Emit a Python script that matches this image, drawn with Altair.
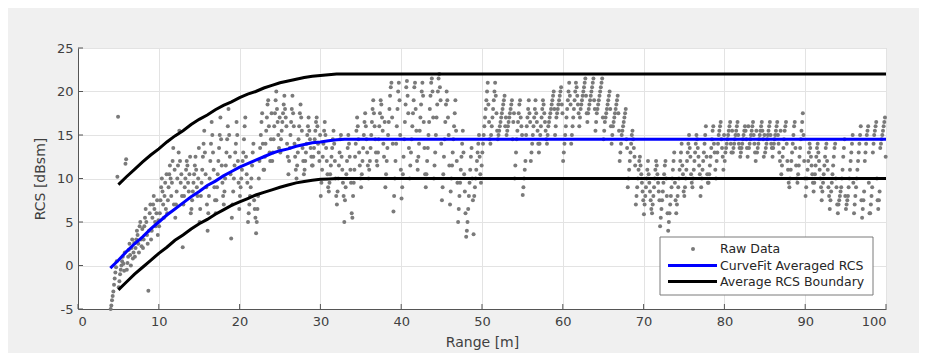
import altair as alt
import pandas as pd

# ---------------- data ----------------
range_start = 4  # first 1 m range bin of the raw data
raw_rcs = [
    [-5.0, -4.6, -4.0, -3.5, -3.0, -2.2, -1.5, -0.8, -0.2, 0.5, 10.2, 17.1],
    [-2.5, -1.8, -1.0, -0.5, 0.0, 0.5, 1.0, 0.2, -0.6, 1.5, 11.7, 12.2],
    [-0.5, 0.3, 1.0, 1.8, 2.5, 1.2, 0.0, 2.0, 3.0, 0.8, 1.5, 2.6],
    [1.0, 2.0, 3.0, 4.0, 3.5, 2.5, 1.5, 4.5, 5.0, 3.0, 2.2, 4.2],
    [2.0, 3.0, 4.5, 5.5, 6.5, 5.0, 3.5, 2.5, -2.9, 4.0, 6.0, 7.0],
    [3.0, 4.0, 5.5, 7.0, 8.0, 6.5, 5.0, 4.5, 6.0, 7.5, 3.5, 5.2],
    [4.5, 6.0, 7.5, 9.0, 10.0, 8.5, 7.0, 5.5, 8.0, 9.5, 6.5, 10.5],
    [6.0, 7.5, 9.0, 10.5, 11.5, 10.0, 8.0, 9.5, 12.0, 13.5, 7.0, 11.0],
    [5.5, 7.0, 8.5, 10.0, 11.5, 13.0, 15.5, 12.0, 9.5, 10.5, 8.0, 2.1],
    [7.0, 8.0, 9.0, 10.0, 11.0, 12.0, 11.5, 9.5, 8.5, 10.5, 12.5, 6.0],
    [6.5, 7.5, 8.5, 9.5, 10.5, 11.5, 12.5, 11.0, 9.0, 8.0, 10.0, 13.5],
    [5.0, 6.5, 8.0, 9.5, 11.0, 12.5, 14.0, 15.5, 13.0, 10.5, 9.0, 7.0],
    [4.0, 6.0, 8.0, 10.0, 12.0, 14.0, 16.5, 15.0, 13.0, 11.0, 9.0, 7.5],
    [6.0, 7.5, 9.0, 10.5, 12.0, 13.5, 15.0, 17.0, 14.5, 11.5, 9.5, 8.0],
    [7.0, 8.5, 10.0, 11.5, 13.0, 14.5, 16.0, 18.0, 15.0, 12.5, 10.5, 3.1],
    [5.5, 7.0, 8.5, 10.0, 11.5, 13.0, 14.0, 16.5, 15.0, 12.0, 9.5, 6.5],
    [8.0, 9.0, 10.0, 11.0, 12.0, 13.0, 14.5, 16.0, 17.0, 12.5, 10.5, 9.5],
    [5.0, 6.0, 7.0, 8.0, 9.0, 10.0, 11.5, 13.0, 14.0, 7.5, 6.5, 5.5],
    [3.7, 5.0, 6.5, 8.0, 10.0, 12.0, 13.5, 15.0, 16.5, 17.5, 14.0, 11.0],
    [11.0, 12.5, 14.0, 15.5, 17.0, 18.5, 19.0, 16.0, 13.0, 12.0, 14.5, 17.5],
    [12.0, 13.0, 14.5, 16.0, 17.5, 19.0, 20.0, 18.0, 16.5, 15.0, 13.5, 17.0],
    [13.0, 14.5, 15.5, 16.5, 17.5, 18.5, 19.5, 18.0, 17.0, 16.0, 14.0, 12.5],
    [10.5, 12.0, 13.5, 15.0, 16.5, 18.0, 19.5, 17.5, 16.0, 14.0, 12.5, 11.0],
    [10.0, 11.5, 13.0, 14.5, 16.0, 17.5, 18.5, 17.0, 15.5, 13.5, 12.0, 10.5],
    [11.0, 12.0, 13.0, 14.0, 15.0, 16.0, 17.0, 15.5, 14.5, 13.5, 12.5, 11.5],
    [11.5, 12.5, 13.5, 14.5, 15.5, 16.5, 17.0, 16.0, 14.0, 13.0, 12.0, 15.0],
    [8.0, 9.5, 11.0, 12.5, 14.0, 15.5, 16.5, 15.0, 13.5, 12.0, 10.5, 9.0],
    [8.5, 9.5, 10.5, 11.5, 12.5, 13.5, 14.5, 15.5, 14.0, 12.0, 10.0, 8.0],
    [7.0, 8.5, 10.0, 11.5, 13.0, 14.5, 15.0, 12.5, 11.0, 9.5, 8.0, 5.0],
    [7.5, 9.0, 10.5, 12.0, 13.5, 15.0, 14.0, 12.5, 11.0, 9.5, 6.0, 5.5],
    [8.0, 9.5, 11.0, 12.5, 14.0, 15.5, 17.0, 16.0, 14.5, 13.0, 11.5, 10.0],
    [9.0, 10.5, 12.0, 13.5, 15.0, 16.5, 17.5, 16.0, 14.5, 13.0, 11.5, 10.0],
    [11.0, 12.0, 13.5, 15.0, 16.5, 18.0, 19.0, 17.5, 16.0, 14.5, 13.0, 12.0],
    [11.5, 13.0, 14.5, 16.0, 17.5, 19.0, 18.5, 17.0, 15.5, 14.0, 12.5, 16.5],
    [9.0, 10.5, 12.0, 13.5, 15.0, 16.5, 18.0, 19.5, 20.5, 21.0, 17.0, 14.0],
    [6.2, 8.0, 10.0, 12.0, 14.0, 16.0, 18.0, 20.0, 21.0, 19.0, 15.0, 11.0],
    [7.7, 9.0, 10.5, 12.5, 14.5, 16.5, 18.5, 20.5, 21.2, 19.5, 17.5, 13.5],
    [10.0, 11.5, 13.0, 14.5, 16.0, 17.5, 19.0, 20.5, 21.0, 18.0, 15.5, 12.0],
    [11.0, 12.5, 14.0, 15.5, 17.0, 18.5, 20.0, 21.0, 19.5, 16.5, 13.5, 10.5],
    [9.0, 10.5, 12.0, 13.5, 15.0, 16.5, 18.0, 19.5, 21.0, 21.5, 20.0, 17.0],
    [10.0, 11.5, 13.0, 15.0, 17.0, 18.5, 20.0, 21.5, 22.0, 20.5, 19.0, 14.0],
    [7.5, 9.0, 10.5, 12.5, 14.5, 16.5, 18.5, 20.0, 19.0, 17.0, 15.0, 11.5],
    [7.0, 8.5, 10.0, 11.5, 13.0, 14.5, 16.0, 17.5, 19.0, 15.5, 12.0, 9.5],
    [5.0, 6.5, 8.0, 9.5, 11.0, 12.5, 14.0, 15.5, 13.0, 10.5, 8.5, 6.0],
    [3.3, 4.0, 5.0, 6.5, 8.0, 9.5, 11.0, 12.5, 13.5, 10.0, 7.5, 3.6],
    [8.0, 9.0, 10.0, 11.0, 12.0, 13.0, 14.0, 15.0, 12.5, 10.5, 9.5, 11.5],
    [13.0, 14.0, 15.0, 16.0, 17.0, 18.0, 19.0, 20.0, 21.0, 18.5, 16.5, 14.5],
    [14.0, 15.0, 16.0, 17.0, 18.0, 19.0, 20.0, 21.0, 19.5, 17.5, 15.5, 14.5],
    [15.0, 15.5, 16.0, 16.5, 17.0, 17.5, 18.0, 18.5, 19.0, 19.5, 16.0, 17.0],
    [15.0, 15.5, 16.0, 16.5, 17.0, 17.5, 18.0, 18.5, 19.0, 14.5, 16.5, 17.5],
    [10.0, 11.5, 13.0, 14.5, 15.5, 16.5, 17.5, 18.5, 19.0, 17.0, 16.0, 15.0],
    [8.1, 9.0, 10.0, 11.0, 12.0, 15.0, 16.0, 17.0, 18.0, 19.0, 17.5, 16.5],
    [12.0, 13.0, 14.0, 15.0, 16.0, 17.0, 18.0, 19.0, 17.5, 16.5, 15.5, 14.0],
    [13.0, 14.0, 15.0, 16.0, 17.0, 18.0, 19.0, 18.5, 17.5, 16.5, 15.5, 14.5],
    [14.0, 15.0, 16.0, 16.5, 17.0, 17.5, 18.0, 18.5, 19.0, 19.5, 20.0, 18.0],
    [15.0, 16.0, 17.0, 17.5, 18.0, 18.5, 19.0, 19.5, 20.0, 20.5, 18.5, 17.5],
    [12.0, 13.0, 14.0, 15.0, 16.0, 17.0, 18.0, 19.0, 20.0, 21.0, 19.5, 18.5],
    [14.0, 15.0, 16.0, 17.0, 18.0, 19.0, 20.0, 21.0, 20.5, 19.5, 18.5, 17.5],
    [16.0, 17.0, 18.0, 18.5, 19.0, 19.5, 20.0, 20.5, 21.0, 21.5, 19.5, 17.5],
    [16.5, 17.5, 18.0, 18.5, 19.0, 19.5, 20.0, 20.5, 21.0, 21.5, 19.0, 18.0],
    [15.5, 16.5, 17.5, 18.0, 18.5, 19.0, 19.5, 20.0, 20.5, 21.0, 21.5, 17.0],
    [14.5, 15.5, 16.5, 17.0, 17.5, 18.0, 18.5, 19.0, 19.5, 20.0, 18.0, 16.0],
    [14.0, 15.0, 16.0, 16.5, 17.0, 17.5, 18.0, 18.5, 19.0, 19.5, 17.5, 15.5],
    [12.0, 13.0, 14.0, 15.0, 15.5, 16.0, 16.5, 17.0, 17.5, 18.0, 14.5, 13.5],
    [9.0, 10.0, 11.0, 12.0, 13.0, 14.0, 15.0, 15.5, 14.5, 13.5, 12.5, 11.5],
    [7.0, 8.0, 9.0, 10.0, 11.0, 12.0, 12.5, 11.5, 10.5, 9.5, 8.5, 7.5],
    [5.9, 7.0, 8.0, 9.0, 10.0, 11.0, 12.0, 10.5, 9.5, 8.5, 7.5, 6.5],
    [6.0, 7.0, 8.0, 9.0, 10.0, 11.0, 12.0, 11.5, 10.5, 9.5, 8.5, 7.5],
    [4.5, 5.5, 6.5, 7.5, 8.5, 9.5, 10.5, 11.5, 12.0, 10.0, 8.0, 6.0],
    [4.0, 5.0, 6.0, 7.0, 8.0, 9.0, 10.0, 11.0, 12.0, 13.0, 9.5, 7.5],
    [6.0, 7.0, 8.0, 9.0, 10.0, 11.0, 12.0, 13.0, 14.0, 11.5, 10.5, 8.5],
    [8.0, 9.0, 10.0, 11.0, 12.0, 13.0, 14.0, 15.0, 13.5, 12.5, 10.5, 9.5],
    [9.0, 10.0, 11.0, 12.0, 13.0, 14.0, 15.0, 14.5, 13.5, 12.5, 11.5, 10.5],
    [8.0, 9.0, 10.0, 11.0, 12.0, 13.0, 14.0, 15.0, 16.0, 12.5, 10.5, 9.5],
    [9.5, 10.5, 11.5, 12.5, 13.5, 14.5, 15.5, 16.0, 14.0, 13.0, 11.0, 10.0],
    [12.0, 13.0, 14.0, 15.0, 15.5, 16.0, 16.5, 14.5, 13.5, 12.5, 11.0, 15.0],
    [12.0, 13.0, 13.5, 14.0, 14.5, 15.0, 15.5, 16.0, 16.5, 14.0, 13.0, 15.5],
    [13.0, 13.5, 14.0, 14.5, 15.0, 15.5, 16.0, 16.5, 15.0, 14.0, 13.5, 12.5],
    [13.0, 13.5, 14.0, 14.5, 15.0, 15.5, 16.0, 15.5, 14.5, 13.5, 12.5, 16.0],
    [13.5, 14.0, 14.5, 15.0, 15.5, 16.0, 16.5, 15.0, 14.0, 13.0, 12.0, 15.5],
    [13.0, 13.5, 14.0, 14.5, 15.0, 15.5, 16.0, 16.5, 15.5, 14.5, 12.5, 15.0],
    [13.0, 13.5, 14.0, 14.5, 15.0, 15.5, 16.0, 16.5, 15.0, 14.0, 13.5, 12.5],
    [13.5, 14.0, 14.5, 15.0, 15.5, 16.0, 16.5, 15.0, 14.0, 13.0, 12.0, 15.5],
    [10.5, 11.5, 12.5, 13.5, 14.5, 15.5, 16.0, 16.5, 14.0, 12.0, 11.0, 9.5],
    [9.0, 10.0, 11.0, 12.0, 13.0, 14.0, 15.0, 16.0, 16.5, 13.5, 11.5, 10.0],
    [9.5, 10.5, 11.5, 12.5, 13.5, 14.5, 15.5, 16.5, 17.5, 15.0, 12.0, 10.0],
    [8.0, 9.0, 10.0, 11.0, 12.0, 13.0, 14.0, 13.5, 12.5, 11.5, 10.5, 9.5],
    [8.5, 9.5, 10.5, 11.5, 12.5, 13.5, 14.0, 13.0, 12.0, 11.0, 10.0, 9.0],
    [7.5, 8.5, 9.5, 10.5, 11.5, 12.5, 13.5, 14.0, 12.0, 11.0, 9.0, 8.0],
    [6.5, 7.5, 8.5, 9.5, 10.5, 11.5, 12.5, 13.5, 14.0, 10.0, 9.0, 7.0],
    [6.0, 7.0, 7.5, 8.0, 8.5, 9.0, 10.0, 11.0, 12.5, 13.5, 14.5, 8.0],
    [6.5, 7.0, 7.5, 8.0, 9.0, 10.0, 11.0, 12.0, 13.0, 14.0, 15.0, 9.5],
    [6.0, 7.0, 8.0, 9.0, 10.0, 11.0, 12.0, 13.0, 14.0, 15.0, 16.0, 7.5],
    [5.5, 6.5, 7.5, 8.5, 12.0, 13.0, 14.0, 15.0, 15.5, 16.0, 9.5, 6.0],
    [6.0, 7.0, 8.0, 9.0, 13.0, 14.0, 15.0, 15.5, 16.0, 16.5, 10.0, 7.5],
    [6.5, 7.5, 8.5, 13.5, 14.0, 14.5, 15.0, 15.5, 16.0, 16.5, 17.0, 12.5],
]

avg_x = [4, 5, 6, 7, 8, 9, 10, 11, 12, 13, 14, 15, 16, 17, 18, 19, 20, 21, 22,
         23, 24, 25, 26, 27, 28, 29, 30, 31, 32, 33, 34, 100]
avg_rcs = [-0.3, 0.6, 1.6, 2.5, 3.3, 4.2, 5.0, 5.8, 6.5, 7.2, 7.9, 8.5, 9.2, 9.7,
           10.3, 10.8, 11.3, 11.7, 12.1, 12.5, 12.9, 13.2, 13.4, 13.7, 13.9, 14.1,
           14.2, 14.35, 14.45, 14.5, 14.5, 14.5]

bound_x = [5, 6, 7, 8, 9, 10, 11, 12, 13, 14, 15, 16, 17, 18, 19, 20, 21, 22, 23,
           24, 25, 26, 27, 28, 29, 30, 31, 32, 33, 100]
bound_upper = [9.3, 10.2, 11.05, 11.9, 12.7, 13.4, 14.2, 14.9, 15.5, 16.2, 16.8,
               17.3, 17.9, 18.4, 18.8, 19.3, 19.7, 20.0, 20.4, 20.7, 21.0, 21.2,
               21.4, 21.6, 21.75, 21.85, 21.93, 22.0, 22.0, 22.0]
bound_lower = [-2.8, -1.9, -1.0, -0.2, 0.6, 1.4, 2.1, 2.9, 3.5, 4.2, 4.8, 5.3, 5.9,
               6.4, 6.9, 7.3, 7.7, 8.1, 8.4, 8.7, 9.0, 9.25, 9.5, 9.65, 9.8, 9.9,
               9.95, 10.0, 10.0, 10.0]

x_ticks = [0, 10, 20, 30, 40, 50, 60, 70, 80, 90, 100]
y_ticks = [-5, 0, 5, 10, 15, 20, 25]
legend_labels = ["Raw Data", "CurveFit Averaged RCS", "Average RCS Boundary"]

# ---------------- tables ----------------
rows = []
for b, vals in enumerate(raw_rcs):
    n = len(vals)
    for i, v in enumerate(vals):
        rows.append({"x": range_start + b + (i + 0.5) / n, "y": v})
raw_df = pd.DataFrame(rows)
avg_df = pd.DataFrame({"x": avg_x, "y": avg_rcs})
up_df = pd.DataFrame({"x": bound_x, "y": bound_upper})
lo_df = pd.DataFrame({"x": bound_x, "y": bound_lower})
xt_df = pd.DataFrame({"x": x_ticks})
yt_df = pd.DataFrame({"y": y_ticks})

W, H = 808, 261
FONT = "DejaVu Sans"
TXT = "#404040"


def X(field="x"):
    return alt.X(f"{field}:Q", scale=alt.Scale(domain=[0, 100], nice=False, zero=False),
                 axis=alt.Axis(values=x_ticks, title="Range [m]", labelPadding=6,
                               titlePadding=7, labelExpr="'' + datum.value"))


def Y(field="y"):
    return alt.Y(f"{field}:Q", scale=alt.Scale(domain=[-5, 25], nice=False, zero=False),
                 axis=alt.Axis(values=y_ticks, title="RCS [dBsm]", labelPadding=5,
                               titlePadding=9, labelExpr="'' + datum.value"))


points = alt.Chart(raw_df).mark_circle(size=16, color="#7a7a7a", opacity=1).encode(x=X(), y=Y())
avg_line = alt.Chart(avg_df).mark_line(color="#0000ff", strokeWidth=3).encode(x=X(), y=Y())
up_line = alt.Chart(up_df).mark_line(color="#000000", strokeWidth=3).encode(x=X(), y=Y())
lo_line = alt.Chart(lo_df).mark_line(color="#000000", strokeWidth=3).encode(x=X(), y=Y())

xticks = alt.Chart(xt_df).mark_rule(color="#555555", strokeWidth=1).encode(
    x=X(), y=alt.value(H), y2=alt.value(H - 5))
yticks = alt.Chart(yt_df).mark_rule(color="#555555", strokeWidth=1).encode(
    y=Y(), x=alt.value(0), x2=alt.value(5))

one = alt.Data(values=[{"k": 1}])
leg_box = alt.Chart(one).mark_rect(fill="white", stroke="#7a7a7a", strokeWidth=1).encode(
    x=alt.value(582), x2=alt.value(795), y=alt.value(189), y2=alt.value(247))
leg_dot = alt.Chart(one).mark_circle(size=16, color="#7a7a7a", opacity=1).encode(
    x=alt.value(615), y=alt.value(201))
leg_blue = alt.Chart(one).mark_rule(color="#0000ff", strokeWidth=3).encode(
    x=alt.value(590), x2=alt.value(639), y=alt.value(217.5))
leg_black = alt.Chart(one).mark_rule(color="#000000", strokeWidth=3).encode(
    x=alt.value(590), x2=alt.value(639), y=alt.value(233.5))
leg_texts = [
    alt.Chart(one).mark_text(text=lab, align="left", baseline="middle", font=FONT,
                             fontSize=12.5, color="#262626").encode(
        x=alt.value(642), y=alt.value(yy))
    for lab, yy in zip(legend_labels, [201, 217.5, 233.5])
]

chart = alt.layer(
    points, avg_line, up_line, lo_line, xticks, yticks,
    leg_box, leg_dot, leg_blue, leg_black, *leg_texts
).properties(
    width=W, height=H, background="#f0f0f0",
    padding={"left": 70, "top": 40, "right": 33, "bottom": 44},
    autosize=alt.AutoSizeParams(type="none"),
).configure_view(
    fill="white", stroke="#d6d6d6", strokeWidth=1
).configure_axis(
    grid=True, gridColor="#e3e3e3", gridWidth=1,
    domainColor="#555555", domainWidth=1, ticks=False, tickSize=0,
    labelFont=FONT, labelFontSize=13, labelColor=TXT,
    titleFont=FONT, titleFontSize=14, titleFontWeight="normal", titleColor=TXT,
)

chart.save("out.html", embed_options={"renderer": "svg", "actions": False})
